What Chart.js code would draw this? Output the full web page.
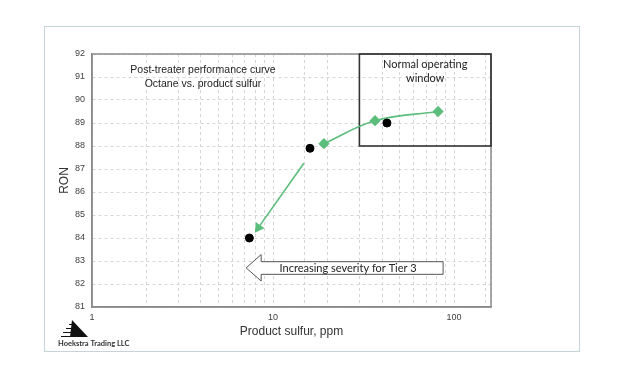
<!DOCTYPE html>
<html>
<head>
<meta charset="utf-8">
<script src="https://cdn.jsdelivr.net/npm/chart.js@4.4.1/dist/chart.umd.min.js"></script>
<style>
  html, body { margin: 0; padding: 0; background: #fff; }
  #wrap { position: relative; width: 624px; height: 373px; }
  #frame { position: absolute; left: 44px; top: 26px; width: 534px; height: 324px; border: 1.5px solid #c4d4d9; }
  canvas { position: absolute; left: 0; top: 0; }
</style>
</head>
<body>
<div id="wrap">
  <div id="frame"></div>
  <canvas id="chart" width="624" height="373"></canvas>
</div>
<script>
// measured samples (black dots)
const sampleSulfur = [7.4, 16.0, 42.6];
const sampleRon = [84.0, 87.9, 89.0];
// post-treater performance curve (green diamonds)
const curveSulfur = [19.1, 36.6, 81.6];
const curveRon = [88.1, 89.1, 89.5];
// green trend arrow, start -> end
const trendSulfur = [14.8, 8.3];
const trendRon = [87.25, 84.45];
// normal operating window
const windowSulfur = [30, 160];
const windowRon = [88, 92];
// axis ticks
const xTickLabels = [1, 10, 100];
const yTicks = [81, 82, 83, 84, 85, 86, 87, 88, 89, 90, 91, 92];

const green = '#5cbd7c';
const axisFont = '"Liberation Sans", Arial, sans-serif';
const noteFont = 'Lato, "Open Sans", sans-serif';

// severity arrow placement, in axis units
const severity = { tip: 7.1, neck: 8.6, tail: 87, mid: 82.7, headTop: 83.28, headBottom: 82.13, bodyTop: 82.97, bodyBottom: 82.42 };

const decor = {
  id: 'decor',
  beforeDatasetsDraw(chart) {
    const { ctx, chartArea: a, scales: { x, y } } = chart;
    ctx.save();

    // plot frame
    ctx.strokeStyle = '#8a8a8a';
    ctx.lineWidth = 1.5;
    ctx.strokeRect(a.left, a.top, a.right - a.left, a.bottom - a.top);

    // operating window box
    const wx0 = x.getPixelForValue(windowSulfur[0]);
    const wx1 = x.getPixelForValue(windowSulfur[1]);
    const wy0 = y.getPixelForValue(windowRon[1]);
    const wy1 = y.getPixelForValue(windowRon[0]);
    ctx.strokeStyle = '#333';
    ctx.lineWidth = 1.6;
    ctx.strokeRect(wx0, wy0, wx1 - wx0, wy1 - wy0);

    ctx.fillStyle = '#222';
    ctx.textAlign = 'center';
    ctx.textBaseline = 'middle';
    ctx.font = '11px ' + noteFont;
    ctx.fillText('Normal operating', (wx0 + wx1) / 2, wy0 + 10);
    ctx.fillText('window', (wx0 + wx1) / 2, wy0 + 24);

    // chart caption
    ctx.font = '10.5px ' + axisFont;
    ctx.fillText('Post-treater performance curve', 203, 70);
    ctx.fillText('Octane vs. product sulfur', 203, 84);

    // severity arrow
    const tx = x.getPixelForValue(severity.tip);
    const nx = x.getPixelForValue(severity.neck);
    const ex = x.getPixelForValue(severity.tail);
    const my = y.getPixelForValue(severity.mid);
    const ht = y.getPixelForValue(severity.headTop);
    const hb = y.getPixelForValue(severity.headBottom);
    const bt = y.getPixelForValue(severity.bodyTop);
    const bb = y.getPixelForValue(severity.bodyBottom);
    ctx.beginPath();
    ctx.moveTo(tx, my);
    ctx.lineTo(nx, ht);
    ctx.lineTo(nx, bt);
    ctx.lineTo(ex, bt);
    ctx.lineTo(ex, bb);
    ctx.lineTo(nx, bb);
    ctx.lineTo(nx, hb);
    ctx.closePath();
    ctx.fillStyle = '#fff';
    ctx.fill();
    ctx.strokeStyle = '#555';
    ctx.lineWidth = 1;
    ctx.stroke();
    ctx.fillStyle = '#222';
    ctx.font = '11px ' + noteFont;
    ctx.fillText('Increasing severity for Tier 3', (nx + ex) / 2 - 4, my + 1);

    ctx.restore();
  },
  afterDraw(chart) {
    const { ctx } = chart;
    ctx.save();
    // little logo
    ctx.fillStyle = '#111';
    ctx.beginPath();
    ctx.moveTo(72, 320);
    ctx.lineTo(88, 337);
    ctx.lineTo(70, 337);
    ctx.closePath();
    ctx.fill();
    ctx.strokeStyle = '#111';
    ctx.lineWidth = 1;
    [[69, 324.5], [66, 328.5], [63, 332.5], [61, 336.5]].forEach(([x0, yy]) => {
      ctx.beginPath();
      ctx.moveTo(x0, yy);
      ctx.lineTo(76, yy);
      ctx.stroke();
    });
    ctx.fillStyle = '#333';
    ctx.font = 'bold 7.5px ' + noteFont;
    ctx.textAlign = 'left';
    ctx.textBaseline = 'middle';
    ctx.fillText('Hoekstra Trading LLC', 58, 344);
    ctx.restore();
  }
};

const gridStyle = { color: '#d6d6d6', lineWidth: 1, drawTicks: false };
const borderStyle = { display: true, color: '#8a8a8a', width: 1.5, dash: [3, 3] };

new Chart(document.getElementById('chart'), {
  type: 'scatter',
  data: {
    datasets: [
      {
        label: 'Samples',
        data: sampleSulfur.map((s, i) => ({ x: s, y: sampleRon[i] })),
        backgroundColor: '#000',
        borderColor: '#000',
        pointRadius: 4,
        showLine: false
      },
      {
        label: 'Curve',
        data: curveSulfur.map((s, i) => ({ x: s, y: curveRon[i] })),
        showLine: true,
        tension: 0.4,
        borderColor: green,
        backgroundColor: green,
        borderWidth: 1.6,
        pointStyle: 'rectRot',
        pointRadius: 4.5
      },
      {
        label: 'Trend',
        data: trendSulfur.map((s, i) => ({ x: s, y: trendRon[i] })),
        showLine: true,
        borderColor: green,
        backgroundColor: green,
        borderWidth: 1.6,
        pointStyle: 'triangle',
        pointRadius: ctx => ctx.dataIndex === trendSulfur.length - 1 ? 4.5 : 0,
        pointRotation: ctx => {
          const { x, y } = ctx.chart.scales;
          const dx = x.getPixelForValue(trendSulfur[1]) - x.getPixelForValue(trendSulfur[0]);
          const dy = y.getPixelForValue(trendRon[1]) - y.getPixelForValue(trendRon[0]);
          return Math.atan2(dx, -dy) * 180 / Math.PI;
        }
      }
    ]
  },
  options: {
    responsive: false,
    animation: false,
    layout: { padding: { left: 57, right: 133, top: 54, bottom: 34 } },
    plugins: { legend: { display: false }, tooltip: { enabled: false } },
    scales: {
      x: {
        type: 'logarithmic',
        min: 1,
        max: 160,
        afterFit: s => { s.height = 32; },
        grid: gridStyle,
        border: borderStyle,
        ticks: {
          autoSkip: false,
          maxRotation: 0,
          padding: 5,
          color: '#404040',
          font: { family: axisFont, size: 9 },
          callback: v => xTickLabels.includes(v) ? String(v) : ''
        },
        title: {
          display: true,
          text: 'Product sulfur, ppm',
          color: '#333',
          font: { family: axisFont, size: 12 },
          padding: 0
        }
      },
      y: {
        min: yTicks[0],
        max: yTicks[yTicks.length - 1],
        afterFit: s => { s.width = 35; },
        afterBuildTicks: s => { s.ticks = yTicks.map(v => ({ value: v })); },
        grid: gridStyle,
        border: borderStyle,
        ticks: {
          padding: 7,
          color: '#404040',
          font: { family: axisFont, size: 9 }
        },
        title: {
          display: true,
          text: 'RON',
          color: '#333',
          font: { family: axisFont, size: 12 },
          padding: 0
        }
      }
    }
  },
  plugins: [decor]
});
</script>
</body>
</html>
